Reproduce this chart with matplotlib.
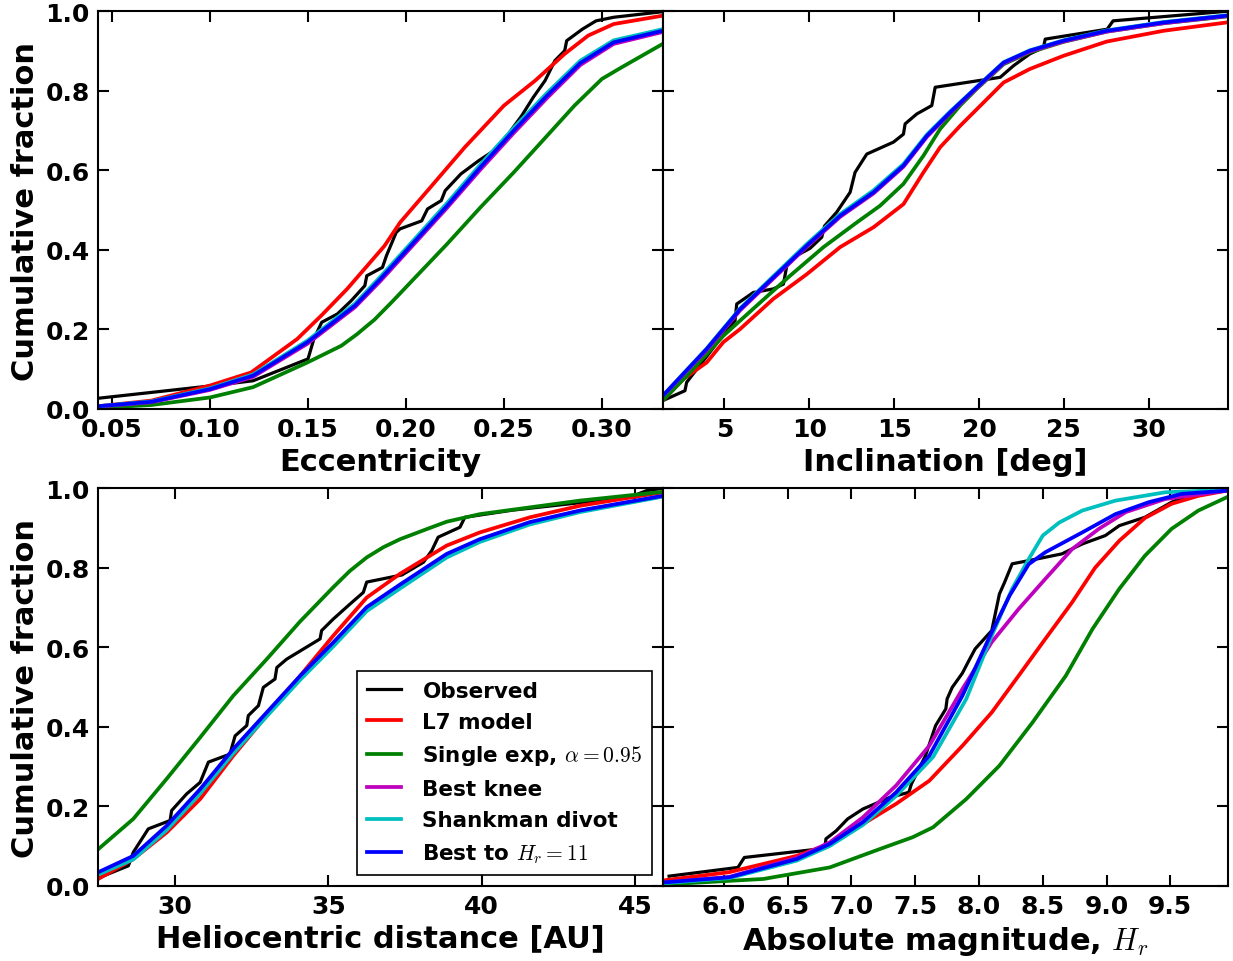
import matplotlib
matplotlib.use("Agg")
import matplotlib.pyplot as plt

plt.rcParams['font.family'] = ['DejaVu Sans']
plt.rcParams['font.weight'] = 'bold'
plt.rcParams['mathtext.fontset'] = 'cm'
plt.rcParams['axes.linewidth'] = 1.5

# ---------------- data ----------------
series_names = ['Observed', 'L7 model', r'Single exp, $\alpha=0.95$',
                'Best knee', 'Shankman divot', r'Best to $H_r=11$']
series_colors = ['k', 'r', 'g', 'm', 'c', 'b']

# Eccentricity panel
ecc_obs_x = [0.043, 0.102, 0.122, 0.150, 0.153, 0.157, 0.165, 0.172, 0.179, 0.180, 0.188, 0.190, 0.195,
             0.197, 0.208, 0.211, 0.218, 0.220, 0.228, 0.237, 0.245, 0.252, 0.259, 0.265, 0.271, 0.276,
             0.281, 0.282, 0.290, 0.297, 0.306, 0.331]
ecc_obs_y = [0.027, 0.059, 0.071, 0.126, 0.176, 0.218, 0.239, 0.272, 0.310, 0.335, 0.356, 0.385, 0.444,
             0.453, 0.473, 0.503, 0.524, 0.549, 0.591, 0.624, 0.650, 0.690, 0.737, 0.784, 0.826, 0.876,
             0.901, 0.926, 0.955, 0.976, 0.985, 0.999]
ecc_l7_x = [0.043, 0.070, 0.100, 0.121, 0.1445, 0.157, 0.170, 0.189, 0.197, 0.211, 0.230, 0.250, 0.266,
            0.281, 0.293, 0.306, 0.331]
ecc_l7_y = [0.007, 0.021, 0.059, 0.092, 0.176, 0.236, 0.302, 0.410, 0.469, 0.549, 0.658, 0.763, 0.826,
            0.893, 0.939, 0.968, 0.989]
ecc_exp_x = [0.043, 0.070, 0.100, 0.122, 0.1497, 0.167, 0.175, 0.184, 0.193, 0.204, 0.221, 0.238, 0.255,
             0.272, 0.286, 0.300, 0.310, 0.331]
ecc_exp_y = [0.003, 0.010, 0.029, 0.055, 0.117, 0.159, 0.188, 0.225, 0.270, 0.327, 0.415, 0.507, 0.595,
             0.687, 0.763, 0.830, 0.859, 0.918]
ecc_mod_x = [0.043, 0.070, 0.100, 0.122, 0.1497, 0.174, 0.187, 0.204, 0.221, 0.238, 0.255, 0.272, 0.289,
             0.306, 0.331]
ecc_knee_y = [0.006, 0.017, 0.048, 0.081, 0.164, 0.256, 0.322, 0.414, 0.506, 0.602, 0.694, 0.782, 0.865,
              0.918, 0.948]
ecc_divot_y = [0.007, 0.019, 0.052, 0.087, 0.172, 0.265, 0.333, 0.425, 0.518, 0.615, 0.707, 0.795, 0.876,
               0.927, 0.955]
ecc_best_y = [0.007, 0.018, 0.050, 0.084, 0.168, 0.260, 0.327, 0.419, 0.511, 0.608, 0.700, 0.788, 0.870,
              0.922, 0.951]

# Inclination panel
inc_obs_x = [1.37, 2.68, 2.78, 4.75, 5.63, 5.73, 6.71, 7.89, 8.48, 8.68, 9.27, 10.05, 10.74, 10.9, 11.62,
             12.41, 12.70, 13.39, 14.96, 15.55, 15.65, 16.34, 17.22, 17.42, 21.25, 22.03, 23.0, 23.8, 23.9,
             27.55, 27.9, 34.6]
inc_obs_y = [0.021, 0.046, 0.067, 0.176, 0.222, 0.264, 0.293, 0.302, 0.314, 0.360, 0.386, 0.404, 0.432,
             0.460, 0.495, 0.545, 0.595, 0.641, 0.671, 0.691, 0.717, 0.742, 0.763, 0.809, 0.834, 0.863,
             0.893, 0.909, 0.930, 0.955, 0.976, 1.0]
inc_l7_x = [1.37, 2.58, 3.96, 4.94, 5.93, 7.89, 9.86, 11.82, 13.79, 15.55, 16.73, 17.71, 18.89, 19.69,
            21.45, 23.0, 24.97, 27.53, 30.87, 34.6]
inc_l7_y = [0.021, 0.075, 0.117, 0.168, 0.201, 0.277, 0.339, 0.407, 0.457, 0.515, 0.595, 0.658, 0.712,
            0.746, 0.821, 0.855, 0.888, 0.924, 0.951, 0.972]
inc_exp_x = [1.37, 2.98, 4.94, 6.91, 8.87, 10.84, 12.80, 14.17, 15.55, 16.73, 17.71, 18.89, 19.87, 21.45,
             23.0, 24.97, 27.53, 30.87, 34.6]
inc_exp_y = [0.021, 0.092, 0.184, 0.260, 0.335, 0.407, 0.469, 0.511, 0.566, 0.637, 0.704, 0.763, 0.805,
             0.867, 0.897, 0.923, 0.949, 0.970, 0.987]
inc_mod_x = [1.37, 3.96, 5.93, 7.89, 9.86, 11.82, 13.79, 15.55, 16.93, 18.3, 19.87, 21.45, 23.0, 24.97,
             27.53, 30.87, 34.6]
inc_knee_y = [0.032, 0.148, 0.248, 0.328, 0.408, 0.483, 0.542, 0.609, 0.684, 0.744, 0.807, 0.869, 0.899,
              0.924, 0.949, 0.970, 0.988]
inc_divot_y = [0.033, 0.152, 0.253, 0.334, 0.415, 0.490, 0.550, 0.616, 0.690, 0.748, 0.810, 0.872, 0.902,
               0.927, 0.952, 0.973, 0.990]
inc_best_y = [0.033, 0.151, 0.251, 0.331, 0.411, 0.486, 0.545, 0.612, 0.687, 0.746, 0.809, 0.871, 0.901,
              0.926, 0.951, 0.972, 0.989]

# Heliocentric distance panel
dist_obs_x = [27.55, 28.48, 28.64, 29.13, 29.84, 29.89, 30.38, 30.82, 31.09, 31.79, 31.96, 32.34, 32.39,
              32.72, 32.88, 33.26, 33.32, 33.64, 34.73, 34.78, 35.16, 35.71, 36.14, 36.25, 37.4, 38.10,
              38.37, 38.58, 39.29, 39.45, 41.0, 43.0, 44.94, 45.37, 45.9]
dist_obs_y = [0.021, 0.050, 0.084, 0.143, 0.164, 0.189, 0.231, 0.260, 0.311, 0.331, 0.377, 0.403, 0.428,
              0.453, 0.499, 0.520, 0.549, 0.570, 0.621, 0.642, 0.671, 0.709, 0.738, 0.764, 0.782, 0.814,
              0.843, 0.877, 0.902, 0.927, 0.945, 0.962, 0.981, 0.994, 1.0]
dist_l7_x = [27.5, 28.64, 29.73, 30.82, 31.90, 32.99, 34.08, 35.16, 36.25, 37.34, 38.86, 39.94, 41.57,
             43.2, 45.9]
dist_l7_y = [0.017, 0.067, 0.134, 0.218, 0.327, 0.428, 0.528, 0.629, 0.725, 0.785, 0.856, 0.889, 0.927,
             0.956, 0.990]
dist_exp_x = [27.5, 28.64, 29.73, 30.82, 31.90, 32.99, 34.08, 35.16, 35.7, 36.25, 36.8, 37.34, 38.3,
              38.86, 39.94, 41.57, 43.2, 45.9]
dist_exp_y = [0.092, 0.168, 0.269, 0.373, 0.478, 0.570, 0.665, 0.751, 0.792, 0.826, 0.852, 0.872, 0.900,
              0.916, 0.935, 0.952, 0.969, 0.991]
dist_mod_x = [27.5, 28.64, 29.73, 30.82, 31.90, 32.99, 34.08, 35.16, 36.25, 37.34, 38.86, 39.94, 41.57,
              43.2, 45.9]
dist_knee_y = [0.032, 0.072, 0.148, 0.240, 0.341, 0.433, 0.525, 0.609, 0.698, 0.755, 0.832, 0.870, 0.913,
               0.943, 0.980]
dist_divot_y = [0.028, 0.066, 0.140, 0.232, 0.333, 0.426, 0.518, 0.602, 0.691, 0.748, 0.826, 0.865, 0.909,
                0.940, 0.979]
dist_best_y = [0.034, 0.075, 0.151, 0.243, 0.344, 0.436, 0.528, 0.612, 0.701, 0.758, 0.835, 0.872, 0.915,
               0.944, 0.981]

# Absolute magnitude panel
mag_obs_x = [5.57, 6.11, 6.16, 6.79, 6.80, 6.88, 6.97, 7.09, 7.30, 7.45, 7.47, 7.58, 7.66, 7.74, 7.75,
             7.79, 7.87, 7.92, 7.97, 8.10, 8.13, 8.16, 8.20, 8.26, 8.39, 8.65, 8.81, 8.99, 9.10, 9.30,
             9.51, 9.67, 9.94]
mag_obs_y = [0.024, 0.046, 0.071, 0.094, 0.118, 0.138, 0.168, 0.193, 0.222, 0.235, 0.256, 0.327, 0.403,
             0.445, 0.470, 0.499, 0.535, 0.566, 0.596, 0.642, 0.688, 0.734, 0.763, 0.810, 0.818, 0.835,
             0.860, 0.881, 0.906, 0.927, 0.965, 0.986, 0.994]
mag_l7_x = [5.52, 6.04, 6.57, 6.83, 7.09, 7.35, 7.61, 7.87, 8.10, 8.31, 8.52, 8.73, 8.91, 9.10, 9.30,
            9.51, 9.72, 9.94]
mag_l7_y = [0.013, 0.034, 0.075, 0.105, 0.155, 0.206, 0.264, 0.352, 0.436, 0.528, 0.621, 0.713, 0.800,
            0.868, 0.925, 0.961, 0.981, 0.994]
mag_exp_x = [5.52, 6.31, 6.83, 7.22, 7.48, 7.64, 7.90, 8.16, 8.42, 8.68, 8.89, 9.10, 9.30, 9.51, 9.72, 9.94]
mag_exp_y = [0.003, 0.017, 0.046, 0.092, 0.122, 0.147, 0.218, 0.302, 0.411, 0.528, 0.646, 0.747, 0.830,
             0.898, 0.944, 0.977]
mag_knee_x = [5.52, 6.04, 6.57, 6.83, 7.09, 7.35, 7.61, 7.87, 8.10, 8.31, 8.52, 8.73, 8.94, 9.15, 9.46, 9.94]
mag_knee_y = [0.008, 0.022, 0.070, 0.109, 0.172, 0.252, 0.352, 0.495, 0.613, 0.696, 0.772, 0.847, 0.898,
              0.940, 0.973, 0.994]
mag_divot_x = [5.52, 6.04, 6.57, 6.83, 7.09, 7.35, 7.64, 7.90, 8.10, 8.26, 8.39, 8.50, 8.63, 8.81, 9.07,
               9.46, 9.94]
mag_divot_y = [0.006, 0.019, 0.063, 0.100, 0.153, 0.226, 0.324, 0.470, 0.629, 0.747, 0.822, 0.881, 0.914,
               0.944, 0.969, 0.990, 0.996]
mag_best_x = [5.52, 6.04, 6.57, 6.83, 7.09, 7.35, 7.61, 7.87, 8.10, 8.24, 8.39, 8.52, 8.81, 9.07, 9.33,
              9.59, 9.94]
mag_best_y = [0.008, 0.021, 0.067, 0.105, 0.160, 0.235, 0.327, 0.478, 0.638, 0.730, 0.809, 0.839, 0.889,
              0.935, 0.965, 0.986, 0.994]

ecc_ticks = [0.05, 0.10, 0.15, 0.20, 0.25, 0.30]
ecc_ticklabels = ['0.05', '0.10', '0.15', '0.20', '0.25', '0.30']
inc_ticks = [5, 10, 15, 20, 25, 30]
dist_ticks = [30, 35, 40, 45]
mag_ticks = [6.0, 6.5, 7.0, 7.5, 8.0, 8.5, 9.0, 9.5]
mag_ticklabels = ['6.0', '6.5', '7.0', '7.5', '8.0', '8.5', '9.0', '9.5']
y_ticks = [0.0, 0.2, 0.4, 0.6, 0.8, 1.0]
y_ticklabels = ['0.0', '0.2', '0.4', '0.6', '0.8', '1.0']

# ---------------- figure ----------------
W, H = 1233, 962
fig = plt.figure(figsize=(W / 100, H / 100), dpi=100)

def frac(x0, y0, x1, y1):
    return [x0 / W, 1 - y1 / H, (x1 - x0) / W, (y1 - y0) / H]

ax_tl = fig.add_axes(frac(98.3, 12.3, 662.7, 410.0))
ax_tr = fig.add_axes(frac(662.7, 12.3, 1227.7, 410.0))
ax_bl = fig.add_axes(frac(98.3, 489.3, 662.7, 886.7))
ax_br = fig.add_axes(frac(662.7, 489.3, 1227.7, 886.7))

panels = [
    (ax_tl, [(ecc_obs_x, ecc_obs_y), (ecc_l7_x, ecc_l7_y), (ecc_exp_x, ecc_exp_y),
             (ecc_mod_x, ecc_knee_y), (ecc_mod_x, ecc_divot_y), (ecc_mod_x, ecc_best_y)],
     (0.043, 0.331), ecc_ticks, ecc_ticklabels, 'Eccentricity', True),
    (ax_tr, [(inc_obs_x, inc_obs_y), (inc_l7_x, inc_l7_y), (inc_exp_x, inc_exp_y),
             (inc_mod_x, inc_knee_y), (inc_mod_x, inc_divot_y), (inc_mod_x, inc_best_y)],
     (1.37, 34.65), inc_ticks, [str(t) for t in inc_ticks], 'Inclination [deg]', False),
    (ax_bl, [(dist_obs_x, dist_obs_y), (dist_l7_x, dist_l7_y), (dist_exp_x, dist_exp_y),
             (dist_mod_x, dist_knee_y), (dist_mod_x, dist_divot_y), (dist_mod_x, dist_best_y)],
     (27.5, 45.9), dist_ticks, [str(t) for t in dist_ticks], 'Heliocentric distance [AU]', True),
    (ax_br, [(mag_obs_x, mag_obs_y), (mag_l7_x, mag_l7_y), (mag_exp_x, mag_exp_y),
             (mag_knee_x, mag_knee_y), (mag_divot_x, mag_divot_y), (mag_best_x, mag_best_y)],
     (5.52, 9.95), mag_ticks, mag_ticklabels, r'Absolute magnitude, $H_r$', False),
]

for ax, data, xlim, xt, xtl, xlabel, ylab in panels:
    for (xs, ys), name, col in zip(data, series_names, series_colors):
        lw = 2.3 if col == 'k' else 2.7
        ax.plot(xs, ys, color=col, lw=lw, label=name, solid_joinstyle='round')
    ax.set_xlim(*xlim)
    ax.set_ylim(0, 1)
    ax.set_xticks(xt)
    ax.set_xticklabels(xtl, fontsize=18, fontweight='bold')
    ax.set_yticks(y_ticks)
    if ylab:
        ax.set_yticklabels(y_ticklabels, fontsize=18, fontweight='bold')
        ax.set_ylabel('Cumulative fraction', fontsize=22, fontweight='bold', labelpad=4)
    else:
        ax.set_yticklabels([])
    ax.set_xlabel(xlabel, fontsize=22, fontweight='bold', labelpad=4)
    ax.tick_params(direction='in', length=8, width=1.5, top=True, right=True, pad=6)

leg = ax_bl.legend(loc='lower right', fontsize=15.5, frameon=True, fancybox=False,
                   edgecolor='k', framealpha=1, handlelength=1.6, handletextpad=1.0,
                   labelspacing=0.53, borderpad=0.45, borderaxespad=0.5)
leg.get_frame().set_linewidth(1.2)
for t in leg.get_texts():
    t.set_fontweight('bold')

fig.savefig('out.png', dpi=100)
